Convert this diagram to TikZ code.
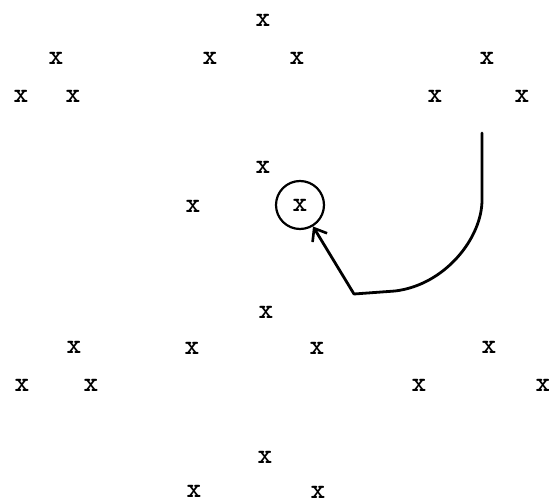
\documentclass[tikz,border=0pt]{standalone}
\usepackage{fontspec}
\usetikzlibrary{arrows.meta}
\begin{document}
\begin{tikzpicture}[x=1pt,y=-1pt,
  xmark/.style={font=\ttfamily\bfseries\fontsize{28}{28}\selectfont, inner sep=0pt},
  ring/.style={draw, circle, line width=2.2pt, minimum size=48pt, inner sep=0pt},
  hook/.style={line width=2.8pt, line cap=round, line join=round, -{Straight Barb[length=11pt,width=17pt,line width=2.6pt]}}]
\useasboundingbox (0,0) rectangle (549,503);
% row 1
\node[xmark] (a1) at (263,20) {x};
% row 2
\node[xmark] (b1) at (56,58) {x};
\node[xmark] (b2) at (210,58) {x};
\node[xmark] (b3) at (297,58) {x};
\node[xmark] (b4) at (487,58) {x};
% row 3
\node[xmark] (c1) at (21,96) {x};
\node[xmark] (c2) at (73,96) {x};
\node[xmark] (c3) at (435,96) {x};
\node[xmark] (c4) at (522,96) {x};
% middle
\node[xmark] (d1) at (263,167) {x};
\node[xmark] (d2) at (193,206) {x};
\node[xmark,ring] (t) at (300,205) {x};
\node[xmark] (d3) at (266,312) {x};
% lower rows
\node[xmark] (e1) at (74,347) {x};
\node[xmark] (e2) at (192,348) {x};
\node[xmark] (e3) at (317,348) {x};
\node[xmark] (e4) at (489,347) {x};
\node[xmark] (f1) at (22,385) {x};
\node[xmark] (f2) at (91,385) {x};
\node[xmark] (f3) at (419,385) {x};
\node[xmark] (f4) at (543,385) {x};
% bottom
\node[xmark] (g1) at (265,457) {x};
\node[xmark] (g2) at (194,491) {x};
\node[xmark] (g3) at (318,492) {x};
% hooked arrow
\coordinate (s) at (482,133);
\coordinate (k) at (354,294);
\draw[hook] (s) -- (482,200) .. controls (482,238) and (445,285) .. (395,291)
  -- (k) -- (t);
\end{tikzpicture}
\end{document}
